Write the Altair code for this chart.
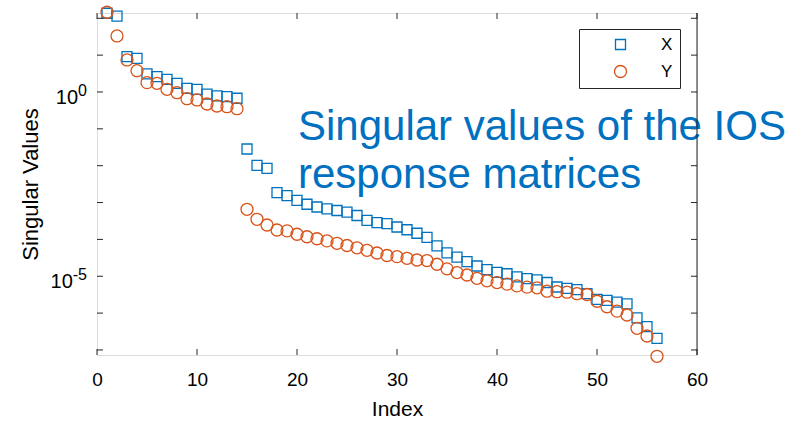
import altair as alt
import pandas as pd

# ---- data ----
index = list(range(1, 57))
sv_x = [137, 115, 9.08, 8.21, 3.08, 2.60, 2.21, 1.72, 1.26, 1.18,
        0.88, 0.78, 0.745, 0.675, 0.0284, 0.01025, 0.0085, 1.85e-3, 1.55e-3, 1.15e-3,
        9.0e-4, 7.57e-4, 6.76e-4, 6.08e-4, 5.47e-4, 4.45e-4, 3.30e-4, 2.84e-4, 2.67e-4, 2.17e-4,
        1.83e-4, 1.47e-4, 1.14e-4, 6.70e-5, 4.33e-5, 3.29e-5, 2.48e-5, 1.90e-5, 1.52e-5, 1.28e-5,
        1.17e-5, 9.6e-6, 8.6e-6, 7.96e-6, 6.76e-6, 5.11e-6, 4.71e-6, 4.31e-6, 3.36e-6, 2.37e-6,
        2.22e-6, 1.98e-6, 1.77e-6, 7.45e-7, 4.28e-7, 2.07e-7]
sv_y = [145.5, 33.1, 7.39, 3.78, 1.79, 1.72, 1.18, 0.957, 0.658, 0.607,
        0.472, 0.417, 0.399, 0.352, 6.56e-4, 3.51e-4, 2.46e-4, 1.80e-4, 1.70e-4, 1.38e-4,
        1.18e-4, 1.04e-4, 9.1e-5, 7.83e-5, 6.83e-5, 5.91e-5, 5.06e-5, 4.28e-5, 3.66e-5, 3.40e-5,
        3.07e-5, 2.76e-5, 2.67e-5, 2.12e-5, 1.59e-5, 1.26e-5, 1.08e-5, 8.8e-6, 7.53e-6, 6.73e-6,
        6.12e-6, 5.47e-6, 5.08e-6, 4.86e-6, 3.93e-6, 3.81e-6, 3.69e-6, 3.36e-6, 3.20e-6, 2.10e-6,
        1.49e-6, 1.13e-6, 8.88e-7, 3.87e-7, 2.39e-7, 6.73e-8]
series_names = ["X", "Y"]
x_ticks = [0, 10, 20, 30, 40, 50, 60]
y_ticks = [1e-7, 1e-6, 1e-5, 1e-4, 1e-3, 1e-2, 1e-1, 1, 10, 100]
y_label_values = [1, 1e-5]
y_label_base = ["10", "10"]
y_label_exp = ["0", "-5"]
annotation = "Singular values of the IOS\nresponse matrices"

assert len(sv_x) == 56 and len(sv_y) == 56

W, H = 600, 342
AX = "#262626"
FONT = "Liberation Sans"
EXP_SIZE = 16
CHAR_W = {"0": 0.556, "5": 0.556, "-": 0.333}

df = pd.DataFrame({
    "Index": index * 2,
    "value": sv_x + sv_y,
    "series": ["X"] * len(sv_x) + ["Y"] * len(sv_y),
})
xt = pd.DataFrame({"Index": x_ticks})
yt = pd.DataFrame({"value": y_ticks})

xscale = alt.Scale(domain=[0, 60], nice=False, zero=False)
yscale = alt.Scale(type="log", domain=[7.3e-8, 139], nice=False)

xaxis = alt.Axis(values=x_ticks, title="Index", labelFlush=False, ticks=False, tickSize=0,
                 domain=False, grid=False, labelPadding=15, labelFontSize=19,
                 labelFont=FONT, labelColor="black", titleFont=FONT, titleFontSize=21,
                 titleFontWeight="normal", titleColor="black", titleY=60,
                 titleBaseline="alphabetic")
yaxis = alt.Axis(values=y_label_values, labels=False, title="Singular Values",
                 ticks=False, tickSize=0, domain=False, grid=False,
                 titleFont=FONT, titleFontSize=22, titleFontWeight="normal",
                 titleColor="black", titleX=-67, titleY=H / 2, titleAngle=270,
                 titleBaseline="middle", titleAlign="center")

legend = alt.Legend(orient="none", legendX=482, legendY=16, title=None, padding=7,
                    strokeColor=AX, fillColor="white", symbolOffset=26, labelOffset=32,
                    symbolSize=121, symbolStrokeWidth=1.3, labelFontSize=17,
                    labelFont=FONT, labelColor="black", rowPadding=9, direction="vertical")

points = alt.Chart(df).mark_point(filled=False, strokeWidth=1.3, opacity=1).encode(
    x=alt.X("Index:Q", scale=xscale, axis=xaxis),
    y=alt.Y("value:Q", scale=yscale, axis=yaxis),
    color=alt.Color("series:N", scale=alt.Scale(domain=series_names, range=["#0072BD", "#D95319"]),
                    legend=legend),
    shape=alt.Shape("series:N", scale=alt.Scale(domain=series_names, range=["square", "circle"]),
                    legend=legend),
    size=alt.Size("series:N", scale=alt.Scale(domain=series_names, range=[100, 144]), legend=None),
)

tick_kw = dict(color=AX, strokeWidth=1)
bottom_ticks = alt.Chart(xt).mark_rule(**tick_kw).encode(
    x=alt.X("Index:Q", scale=xscale), y=alt.value(H), y2=alt.value(H - 6))
top_ticks = alt.Chart(xt).mark_rule(**tick_kw).encode(
    x=alt.X("Index:Q", scale=xscale), y=alt.value(0), y2=alt.value(6))
left_ticks = alt.Chart(yt).mark_rule(**tick_kw).encode(
    y=alt.Y("value:Q", scale=yscale), x=alt.value(0), x2=alt.value(6))
right_ticks = alt.Chart(yt).mark_rule(**tick_kw).encode(
    y=alt.Y("value:Q", scale=yscale), x=alt.value(W), x2=alt.value(W - 6))

# y tick labels as "10" with a raised exponent (MATLAB-like)
label_layers = []
for v, base, ex in zip(y_label_values, y_label_base, y_label_exp):
    ex_w = sum(CHAR_W.get(c, 0.556) for c in ex) * EXP_SIZE
    ldf = pd.DataFrame({"value": [v], "base": [base], "exp": [ex]})
    label_layers.append(alt.Chart(ldf).mark_text(
        align="right", baseline="alphabetic", fontSize=20, font=FONT, color="black", dy=12
    ).encode(y=alt.Y("value:Q", scale=yscale), x=alt.value(-10 - ex_w), text="base:N"))
    label_layers.append(alt.Chart(ldf).mark_text(
        align="right", baseline="alphabetic", fontSize=EXP_SIZE, font=FONT, color="black", dy=4
    ).encode(y=alt.Y("value:Q", scale=yscale), x=alt.value(-10), text="exp:N"))

text = alt.Chart(pd.DataFrame({"t": [annotation]})).mark_text(
    align="left", baseline="alphabetic", fontSize=42, font=FONT, color="#0070C0",
    lineBreak="\n", lineHeight=48).encode(text="t:N", x=alt.value(201), y=alt.value(127))

right_edge = alt.Chart(pd.DataFrame({"a": [0]})).mark_rule(color=AX, strokeWidth=1).encode(
    x=alt.value(W), y=alt.value(0), y2=alt.value(H))

chart = alt.layer(points, bottom_ticks, top_ticks, left_ticks, right_ticks, *label_layers,
                  text, right_edge).properties(
    width=W, height=H,
    autosize=alt.AutoSizeParams(type="none"),
    padding={"left": 97, "top": 13, "right": 115, "bottom": 66},
    background="white",
).configure_view(stroke=AX, strokeWidth=1).configure(font=FONT)

chart.save("out.html", embed_options={"renderer": "svg", "actions": False})
